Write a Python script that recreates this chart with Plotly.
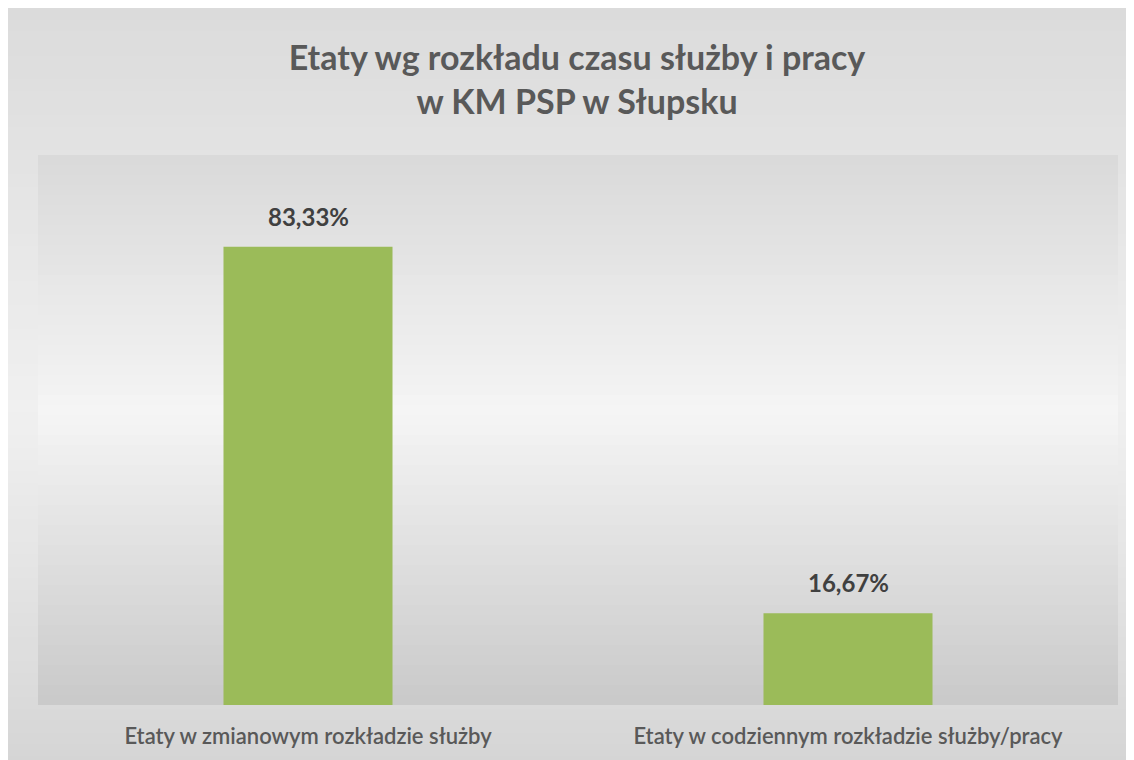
import plotly.graph_objects as go

# ---- data ----
categories = ["Etaty w zmianowym rozkładzie służby", "Etaty w codziennym rozkładzie służby/pracy"]
values = [83.33, 16.67]
title_lines = ["Etaty wg rozkładu czasu służby i pracy", "w KM PSP w Słupsku"]

W, H = 1134, 760
ML, MR, MT, MB = 30, 24, 147, 63
PW, PH = W - ML - MR, H - MT - MB

BAR_COLOR = "#9BBB59"
FONT = "Lato"

def lerp_color(stops, t):
    for i in range(len(stops) - 1):
        t0, c0 = stops[i]
        t1, c1 = stops[i + 1]
        if t0 <= t <= t1:
            f = 0 if t1 == t0 else (t - t0) / (t1 - t0)
            v = round(c0 + (c1 - c0) * f)
            return f"rgb({v},{v},{v})"
    v = stops[-1][1]
    return f"rgb({v},{v},{v})"

shapes = []
# outer background gradient over the full figure
outer_stops = [(0.0, 219), (0.53, 240), (1.0, 213)]
n = 64
for i in range(n):
    y0p = H * i / n
    y1p = H * (i + 1) / n + 0.8
    t = (i + 0.5) / n
    shapes.append(dict(type="rect", xref="paper", yref="paper", layer="below",
                       x0=-ML / PW, x1=(W - ML) / PW,
                       y0=(H - MB - y1p) / PH, y1=(H - MB - y0p) / PH,
                       fillcolor=lerp_color(outer_stops, t), line=dict(width=0)))
# plot area gradient
inner_stops = [(0.0, 217), (0.47, 245), (1.0, 201)]
n2 = 55
for i in range(n2):
    t = (i + 0.5) / n2
    y1 = 1 - i / n2
    y0 = 1 - (i + 1) / n2 - 0.002
    shapes.append(dict(type="rect", xref="paper", yref="paper", layer="below",
                       x0=0, x1=1, y0=max(y0, 0), y1=y1,
                       fillcolor=lerp_color(inner_stops, t), line=dict(width=0)))

fig = go.Figure()
fig.add_trace(go.Bar(x=categories, y=values, marker=dict(color=BAR_COLOR, line=dict(width=0)),
                     width=0.313, hoverinfo="skip"))

annotations = []
for c, v in zip(categories, values):
    annotations.append(dict(x=c, y=v, xref="x", yref="y",
                            text=f"{v:.2f}".replace(".", ",") + "%",
                            showarrow=False, yanchor="bottom", yshift=14,
                            font=dict(family=FONT, size=24, color="#404040", weight="bold")))

fig.update_layout(
    width=W, height=H,
    margin=dict(l=ML, r=MR, t=MT, b=MB),
    paper_bgcolor="rgb(219,219,219)",
    plot_bgcolor="rgba(0,0,0,0)",
    showlegend=False,
    title=dict(text="<br>".join(title_lines), x=569 / W, xanchor="center",
               y=1 - 62 / H, yanchor="middle",
               font=dict(family=FONT, size=34, color="#595959", weight="bold")),
    xaxis=dict(showgrid=False, zeroline=False, showline=False, ticks="",
               tickfont=dict(family=FONT, size=22, color="#595959", weight=600),
               ticklabelstandoff=16, fixedrange=True),
    yaxis=dict(range=[0, 100], visible=False, fixedrange=True),
    shapes=shapes,
    annotations=annotations,
)

fig.write_html("out.html", config={"displayModeBar": False})
